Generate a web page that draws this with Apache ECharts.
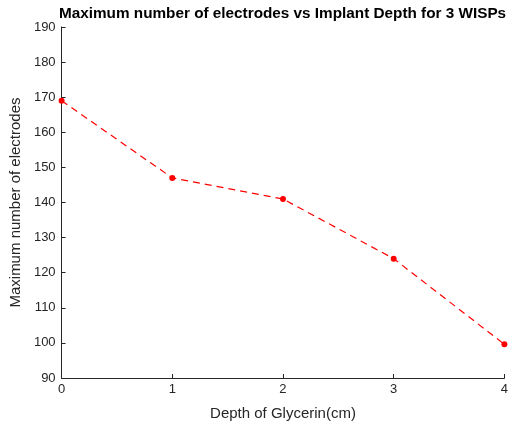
<!DOCTYPE html>
<html><head><meta charset="utf-8">
<script src="https://cdn.jsdelivr.net/npm/echarts@6/dist/echarts.min.js"></script>
<style>html,body{margin:0;padding:0;background:#fff}#c{width:511px;height:427px}</style>
</head><body><div id="c"></div>
<script>
const depths = [0, 1, 2, 3, 4];
const maxElectrodes = [169, 147, 141, 124, 99.6];
const yTicks = [90, 100, 110, 120, 130, 140, 150, 160, 170, 180, 190];
const titleText = 'Maximum number of electrodes vs Implant Depth for 3 WISPs';
const xName = 'Depth of Glycerin(cm)';
const yName = 'Maximum number of electrodes';

const chart = echarts.init(document.getElementById('c'));
const axisCol = '#262626';
chart.setOption({
  animation: false,
  title: {
    text: titleText, left: 54, top: 1,
    textStyle: { fontFamily: 'Liberation Sans', fontSize: 15.3, fontWeight: 'bold', color: '#000' }
  },
  grid: { left: 61, right: 4, top: 27, bottom: 49 },
  xAxis: {
    type: 'value', min: 0, max: 4, interval: 1,
    name: xName, nameLocation: 'middle', nameGap: 28,
    nameTextStyle: { fontFamily: 'Liberation Sans', fontSize: 15, color: axisCol },
    axisLine: { show: true, lineStyle: { color: axisCol, width: 1 } },
    axisTick: { show: true, inside: true, length: 4, lineStyle: { color: axisCol } },
    axisLabel: { fontFamily: 'Liberation Sans', fontSize: 13, color: axisCol, margin: 5 },
    splitLine: { show: false }
  },
  yAxis: {
    type: 'value', min: yTicks[0], max: yTicks[yTicks.length - 1], interval: 10,
    name: yName, nameLocation: 'middle', nameGap: 33,
    nameTextStyle: { fontFamily: 'Liberation Sans', fontSize: 15, color: axisCol },
    axisLine: { show: true, lineStyle: { color: axisCol, width: 1 } },
    axisTick: { show: true, inside: true, length: 4, lineStyle: { color: axisCol } },
    axisLabel: { fontFamily: 'Liberation Sans', fontSize: 13, color: axisCol, margin: 6 },
    splitLine: { show: false }
  },
  series: [{
    type: 'line',
    data: depths.map((d, i) => [d, maxElectrodes[i]]),
    lineStyle: { color: '#ff0000', width: 1.2, type: [7, 5] },
    itemStyle: { color: '#ff0000' },
    symbol: 'circle', symbolSize: 6,
    clip: false
  }]
});
</script></body></html>
